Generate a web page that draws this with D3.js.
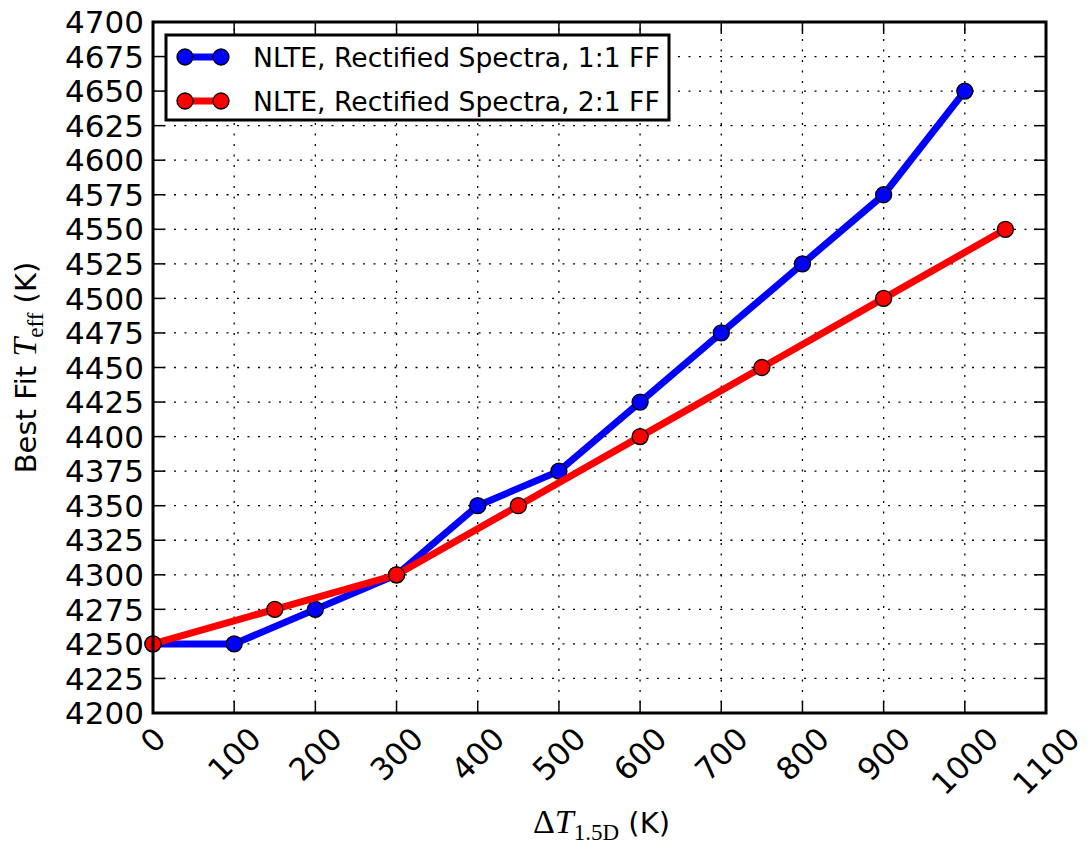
<!DOCTYPE html>
<html>
<head>
<meta charset="utf-8">
<script src="https://cdn.jsdelivr.net/npm/d3@7"></script>
<style>
  body { margin: 0; background: #fff; }
  text { font-family: "DejaVu Sans", sans-serif; }
</style>
</head>
<body>
<div id="chart"></div>
<script>
const xTicks = [0, 100, 200, 300, 400, 500, 600, 700, 800, 900, 1000, 1100];
const yTicks = d3.range(4200, 4701, 25);

const blueX = [0, 100, 200, 300, 400, 500, 600, 700, 800, 900, 1000];
const blueY = [4250, 4250, 4275, 4300, 4350, 4375, 4425, 4475, 4525, 4575, 4650];
const redX = [0, 150, 300, 450, 600, 750, 900, 1050];
const redY = [4250, 4275, 4300, 4350, 4400, 4450, 4500, 4550];

const seriesNames = ["NLTE, Rectified Spectra, 1:1 FF", "NLTE, Rectified Spectra, 2:1 FF"];
const seriesColors = ["#0000ff", "#ff0000"];

const width = 1091, height = 846;
const margin = { left: 153, right: 45, top: 22, bottom: 133 };

const svg = d3.select("#chart").append("svg")
  .attr("width", width)
  .attr("height", height);

const x = d3.scaleLinear().domain([0, 1100]).range([margin.left, width - margin.right]);
const y = d3.scaleLinear().domain([4200, 4700]).range([height - margin.bottom, margin.top]);

const x0 = x.range()[0], x1 = x.range()[1];
const y0 = y.range()[0], y1 = y.range()[1];

// grid
const grid = svg.append("g");
xTicks.slice(1, -1).forEach(t => {
  grid.append("line")
    .attr("x1", x(t)).attr("x2", x(t))
    .attr("y1", y0).attr("y2", y1)
    .attr("stroke", "#000").attr("stroke-width", 1.3)
    .attr("stroke-dasharray", "2,8.5");
});
yTicks.slice(1, -1).forEach(t => {
  grid.append("line")
    .attr("x1", x0).attr("x2", x1)
    .attr("y1", y(t)).attr("y2", y(t))
    .attr("stroke", "#000").attr("stroke-width", 1.3)
    .attr("stroke-dasharray", "2,8.5");
});

// inside ticks on all sides
const tickLen = 12;
const ticks = svg.append("g").attr("stroke", "#000").attr("stroke-width", 1.5);
xTicks.forEach(t => {
  ticks.append("line").attr("x1", x(t)).attr("x2", x(t)).attr("y1", y0).attr("y2", y0 - tickLen);
  ticks.append("line").attr("x1", x(t)).attr("x2", x(t)).attr("y1", y1).attr("y2", y1 + tickLen);
});
yTicks.forEach(t => {
  ticks.append("line").attr("x1", x0).attr("x2", x0 + tickLen).attr("y1", y(t)).attr("y2", y(t));
  ticks.append("line").attr("x1", x1).attr("x2", x1 - tickLen).attr("y1", y(t)).attr("y2", y(t));
});

// y tick labels
svg.append("g").selectAll("text")
  .data(yTicks)
  .join("text")
  .attr("x", x0 - 9)
  .attr("y", d => y(d))
  .attr("dy", "0.36em")
  .attr("text-anchor", "end")
  .attr("font-size", 31)
  .text(d => d);

// x tick labels, rotated 45deg, bbox centered on tick
const xl = svg.append("g");
xTicks.forEach(t => {
  const txt = xl.append("text")
    .attr("font-size", 31)
    .attr("text-anchor", "middle")
    .attr("dominant-baseline", "central")
    .text(t);
  const w = txt.node().getComputedTextLength();
  const h = 23;
  const half = (w + h) * Math.SQRT1_2 / 2;
  const cx = x(t), cy = y0 + 12 + half;
  txt.attr("transform", `translate(${cx},${cy}) rotate(-45)`);
});

// lines and markers
const line = d3.line().x(d => x(d[0])).y(d => y(d[1]));
const series = [
  { pts: blueX.map((v, i) => [v, blueY[i]]), color: seriesColors[0] },
  { pts: redX.map((v, i) => [v, redY[i]]), color: seriesColors[1] }
];

series.forEach(s => {
  svg.append("path")
    .datum(s.pts)
    .attr("fill", "none")
    .attr("stroke", s.color)
    .attr("stroke-width", 7)
    .attr("stroke-linejoin", "round")
    .attr("d", line);
  svg.append("g").selectAll("circle")
    .data(s.pts)
    .join("circle")
    .attr("cx", d => x(d[0]))
    .attr("cy", d => y(d[1]))
    .attr("r", 8)
    .attr("fill", s.color)
    .attr("stroke", "#000")
    .attr("stroke-width", 1.3);
});

// frame
svg.append("rect")
  .attr("x", x0).attr("y", y1)
  .attr("width", x1 - x0).attr("height", y0 - y1)
  .attr("fill", "none")
  .attr("stroke", "#000")
  .attr("stroke-width", 3);

// legend
const leg = svg.append("g");
leg.append("rect")
  .attr("x", 166).attr("y", 35)
  .attr("width", 503).attr("height", 85)
  .attr("fill", "#fff")
  .attr("stroke", "#000")
  .attr("stroke-width", 3);
seriesNames.forEach((name, i) => {
  const ly = 57 + i * 44;
  leg.append("line")
    .attr("x1", 185).attr("x2", 221)
    .attr("y1", ly).attr("y2", ly)
    .attr("stroke", seriesColors[i])
    .attr("stroke-width", 7);
  [185, 221].forEach(cx => {
    leg.append("circle")
      .attr("cx", cx).attr("cy", ly).attr("r", 8)
      .attr("fill", seriesColors[i])
      .attr("stroke", "#000").attr("stroke-width", 1.3);
  });
  leg.append("text")
    .attr("x", 253).attr("y", ly)
    .attr("dy", "0.36em")
    .attr("font-size", 26.6)
    .text(name);
});

// axis labels
const serif = "Liberation Serif, serif";
const xLab = svg.append("text")
  .attr("x", (x0 + x1) / 2 + 2)
  .attr("y", 833)
  .attr("text-anchor", "middle")
  .attr("font-size", 29);
xLab.append("tspan").attr("font-family", serif).attr("font-size", 34).text("Δ");
xLab.append("tspan").attr("font-family", serif).attr("font-style", "italic").attr("font-size", 34).text("T");
xLab.append("tspan").attr("font-family", serif).attr("font-size", 23).attr("dy", 7).text("1.5D");
xLab.append("tspan").attr("dy", -7).text(" (K)");

const yLab = svg.append("text")
  .attr("transform", `translate(36,${(y0 + y1) / 2}) rotate(-90)`)
  .attr("text-anchor", "middle")
  .attr("font-size", 29);
yLab.append("tspan").text("Best Fit ");
yLab.append("tspan").attr("font-family", serif).attr("font-style", "italic").attr("font-size", 34).text("T");
yLab.append("tspan").attr("font-family", serif).attr("font-size", 23).attr("dy", 7).text("eff");
yLab.append("tspan").attr("dy", -7).text(" (K)");
</script>
</body>
</html>
